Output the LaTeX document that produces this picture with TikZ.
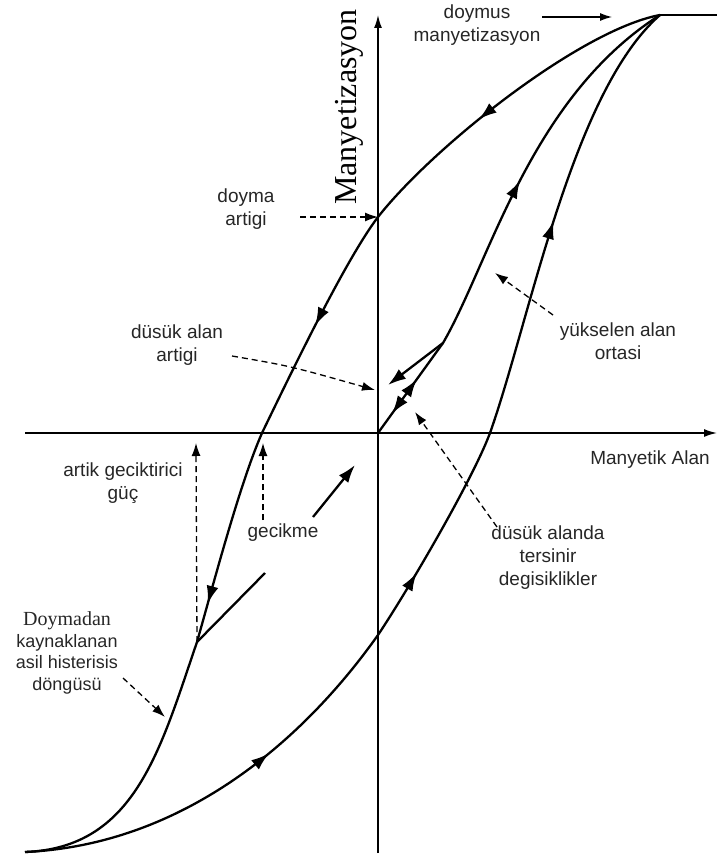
\documentclass[tikz,border=0pt]{standalone}
\usepackage{fontspec}
\setmainfont{Liberation Serif}
\setsansfont{Liberation Sans}
\usetikzlibrary{arrows.meta, decorations.markings, positioning, calc}

\begin{document}
\begin{tikzpicture}[
		% pixel-like units, y pointing down like the scan
		x=1pt, y=-1pt,
		>={Latex[length=13pt,width=8pt]},
		curve/.style={line width=2.3pt, line join=round},
		axis/.style={line width=1.6pt},
		dasharrow/.style={->, dash pattern=on 6pt off 4pt, line width=1.3pt, >={Latex[length=13pt,width=9pt]}},
		lbl/.style={font=\sffamily\fontsize{19}{23}\selectfont, align=center, text=black!85, inner sep=0pt}
		]
		
		\useasboundingbox (0,0) rectangle (717,856);
		
		% --- 1. AXES ---
		\coordinate (O) at (378,433);
		\coordinate (Hleft) at (25,433);
		\coordinate (Hright) at (717,433);
		\coordinate (Vbot) at (378,853);
		\coordinate (Vtop) at (378,15);
		\draw[axis, ->] (Hleft) -- (Hright);
		\draw[axis, ->] (Vbot) -- (Vtop);
		
		\node[font=\fontsize{32}{32}\selectfont, rotate=90, inner sep=0pt] (lblMag) at (349,107) {Manyetizasyon};
		\node[lbl] (lblField) at (650,460) {Manyetik Alan};
		
		% --- 2. KEY POINTS OF THE LOOP ---
		\coordinate (Ms) at (660,15);   % saturation
		\coordinate (Mn) at (25,852);   % negative saturation
		\coordinate (Mr) at (378,217);  % remanence
		\coordinate (Hc) at (262,433);  % coercive point
		\coordinate (K) at (197,642);   % knee on descending branch
		\coordinate (Kend) at (265,573);
		\coordinate (X1) at (378,635);  % ascending branch crosses M axis
		\coordinate (Hc2) at (490,433); % ascending branch crosses H axis
		\coordinate (R) at (443,343);   % reversal on inner branch
		\coordinate (Rend) at (388,385);
		\coordinate (Lagstart) at (313,517);
		\coordinate (Lagend) at (355,465);
		\coordinate (Satend) at (717,15);
		
		% saturated part
		\draw[line width=2.8pt] (Ms) -- (Satend);
		
		% descending branch
		\draw[curve, postaction={decorate}, decoration={markings,
			mark=at position 0.19 with {\arrow{Latex[length=18pt,width=12pt]}},
			mark=at position 0.43 with {\arrow{Latex[length=18pt,width=12pt]}},
			mark=at position 0.70 with {\arrow{Latex[length=18pt,width=12pt]}}}]
		(Ms) .. controls (580,30) and (433,147) .. (Mr)
		.. controls (346,259) and (292,371) .. (Hc)
		.. controls (240,483) and (214,582) .. (K)
		.. controls (160,750) and (135,848) .. (Mn);
		
		% ascending branch
		\draw[curve, postaction={decorate}, decoration={markings,
			mark=at position 0.24 with {\arrow{Latex[length=18pt,width=12pt]}},
			mark=at position 0.45 with {\arrow{Latex[length=18pt,width=12pt]}},
			mark=at position 0.79 with {\arrow{Latex[length=18pt,width=12pt]}}}]
		(Mn) .. controls (180,845) and (300,745) .. (X1)
		.. controls (408,590) and (472,481) .. (Hc2)
		.. controls (530,320) and (572,92) .. (Ms);
		
		% initial curve from the origin
		\draw[curve, postaction={decorate}, decoration={markings,
			mark=at position 0.047 with {\arrowreversed{Latex[length=18pt,width=12pt]}},
			mark=at position 0.13 with {\arrow{Latex[length=18pt,width=12pt]}},
			mark=at position 0.57 with {\arrow{Latex[length=18pt,width=12pt]}}}]
		(O) -- (R) .. controls (490,262) and (530,98) .. (Ms);
		
		% minor loops
		\draw[curve, -{Latex[length=18pt,width=12pt]}] (R) -- (Rend);
		\draw[curve, -{Latex[length=18pt,width=12pt]}] (Lagstart) -- (Lagend);
		\draw[curve] (K) -- (Kend);
		
		% --- 3. LABELS ---
		\node[lbl] (lblSat) at (477,25) {doymus\\manyetizasyon};
		\node[lbl] (lblRem) at (246,209) {doyma\\artigi};
		\node[lbl] (lblLowRem) at (177,345) {düsük alan\\artigi};
		\node[lbl] (lblRise) at (618,341) {yükselen alan\\ortasi};
		\node[lbl] (lblRev) at (548,558) {düsük alanda\\tersinir\\degisiklikler};
		\node[lbl] (lblCoer) at (123,483) {artik geciktirici\\güç};
		\node[lbl] (lblLag) at (283,533) {gecikme};
		\node[lbl, font=\sffamily\fontsize{18}{21.5}\selectfont] (lblLoop) at (67,653) {{\rmfamily\fontsize{20}{21.5}\selectfont Doymadan}\\kaynaklanan\\asil histerisis\\döngüsü};
		
		% --- 4. POINTERS ---
		\coordinate (satA) at (542,17);
		\coordinate (satB) at (612,17);
		\draw[line width=1.1pt, ->, >={Latex[length=12pt,width=8pt]}] (satA) -- (satB);
		
		\coordinate (remA) at (300,217);
		\draw[dasharrow] (remA) -- (Mr);
		
		\coordinate (lowA) at (232,356);
		\coordinate (lowB) at (375,390);
		\draw[dasharrow] (lowA) .. controls (290,366) .. (lowB);
		
		\coordinate (riseA) at (553,315);
		\coordinate (riseB) at (495,273);
		\draw[dasharrow] (riseA) -- (riseB);
		
		\coordinate (revA) at (497,527);
		\coordinate (revB) at (415,412);
		\draw[dasharrow] (revA) -- (revB);
		
		\coordinate (coerB) at (196,443);
		\draw[dasharrow] (K) -- (coerB);
		
		\coordinate (lagA) at (263,520);
		\coordinate (lagB) at (263,443);
		\draw[dasharrow] (lagA) -- (lagB);
		
		\coordinate (loopA) at (123,678);
		\coordinate (loopB) at (165,717);
		\draw[dasharrow] (loopA) -- (loopB);
		
	\end{tikzpicture}
\end{document}
